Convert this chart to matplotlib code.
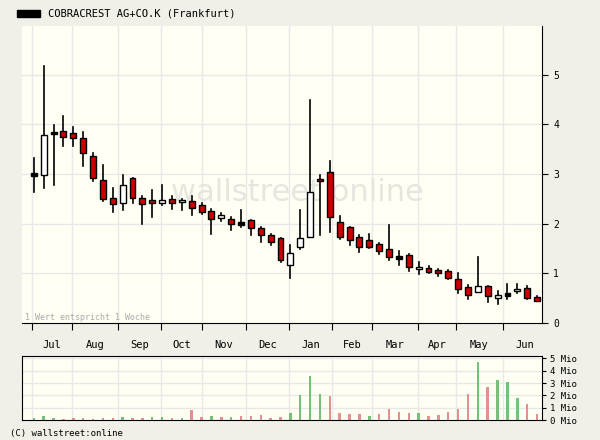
import matplotlib
matplotlib.use("Agg")
import matplotlib.pyplot as plt
from matplotlib.patches import Rectangle

opens  = [3.0,2.97,3.83,3.87,3.83,3.72,3.37,2.87,2.51,2.42,2.91,2.52,2.48,2.42,2.50,2.44,2.46,2.38,2.25,2.12,2.10,2.01,2.08,1.92,1.78,1.71,1.17,
          1.54,1.73,2.90,3.04,2.04,1.94,1.73,1.67,1.59,1.49,1.32,1.37,1.08,1.10,1.06,1.05,0.88,0.72,0.62,0.74,0.51,0.58,0.64,0.70,0.52]
closes = [2.98,3.78,3.82,3.75,3.72,3.43,2.92,2.50,2.39,2.77,2.52,2.39,2.42,2.48,2.42,2.48,2.31,2.23,2.09,2.17,1.99,2.00,1.91,1.78,1.63,1.26,1.41,
          1.72,2.63,2.86,2.13,1.73,1.67,1.54,1.54,1.44,1.32,1.31,1.12,1.13,1.02,1.00,0.90,0.69,0.57,0.74,0.54,0.56,0.57,0.68,0.51,0.45]
highs  = [3.33,5.18,3.98,4.16,3.94,3.85,3.43,3.19,2.71,2.97,2.91,2.56,2.67,2.77,2.56,2.50,2.56,2.42,2.29,2.21,2.13,2.27,2.08,1.94,1.80,1.71,1.57,
          2.27,4.49,2.98,3.26,2.15,1.94,1.77,1.80,1.62,1.98,1.45,1.39,1.23,1.14,1.08,1.07,1.01,0.76,1.32,0.74,0.64,0.78,0.78,0.74,0.54]
lows   = [2.64,2.72,2.78,3.57,3.57,3.16,2.86,2.46,2.23,2.27,2.41,1.99,2.13,2.37,2.29,2.27,2.17,2.20,1.79,2.05,1.87,1.93,1.77,1.63,1.58,1.22,0.90,
          1.48,1.73,1.77,1.83,1.69,1.58,1.42,1.52,1.38,1.26,1.16,1.04,0.98,1.01,0.94,0.88,0.61,0.49,0.62,0.43,0.39,0.49,0.60,0.49,0.45]
volumes = [0.17,0.33,0.17,0.08,0.17,0.17,0.08,0.17,0.17,0.25,0.17,0.17,0.25,0.25,0.17,0.17,0.83,0.25,0.33,0.25,0.25,0.33,0.33,0.4,0.17,0.25,
           0.58,2.0,3.58,2.08,1.92,0.58,0.5,0.5,0.33,0.5,0.92,0.67,0.58,0.58,0.33,0.42,0.67,0.92,2.08,4.75,2.67,3.25,3.08,1.75,1.33,0.5]
vol_up = "GGGRRRRRRGRRGGRGRRGRGRRRRRGGGGRRRRGRRRRGRRRRRGRGGGRR"
months = ["Jul","Aug","Sep","Oct","Nov","Dec","Jan","Feb","Mar","Apr","May","Jun"]
month_bounds = [-0.23,3.88,8.55,12.9,17.06,21.5,25.9,30.2,34.3,38.9,42.8,47.5,52.0]

BG = "#fffff3"
FIG = "#f0f0e8"
GRID = "#e8e8e8"
mono = "DejaVu Sans Mono"
W, H = 600, 440
fig = plt.figure(figsize=(6, 4.4), dpi=100, facecolor=FIG)

def ax_px(l, t, r, b):
    return fig.add_axes([l / W, 1 - b / H, (r - l) / W, (b - t) / H])

ax = ax_px(22, 26, 542, 323)
ax.set_facecolor(BG)
n = len(opens)
ax.set_xlim(-1.2, 51.5)
ax.set_ylim(0, 5.98)
ax.set_yticks(range(6))
for b in month_bounds[:-1]:
    ax.axvline(b, color=GRID, lw=1, zorder=0)
for y in range(1, 6):
    ax.axhline(y, color=GRID, lw=1, zorder=0)
for i in range(n):
    o, c, h, l = opens[i], closes[i], highs[i], lows[i]
    ax.plot([i, i], [l, h], color="black", lw=1.2, zorder=2)
    lo, hi = min(o, c), max(o, c)
    if hi - lo < 0.04:
        lo, hi = (o + c) / 2 - 0.025, (o + c) / 2 + 0.025
        fc = "black"
    else:
        fc = "white" if c > o else "#cc0000"
    ax.add_patch(Rectangle((i - 0.3, lo), 0.6, hi - lo, facecolor=fc, edgecolor="black", lw=1, zorder=3))
ax.yaxis.tick_right()
ax.tick_params(axis="y", labelsize=7, length=4, direction="out", pad=4)
ax.set_xticks(month_bounds[:-1])
ax.set_xticklabels([])
ax.tick_params(axis="x", length=5, direction="out")
mids = [(month_bounds[k] + month_bounds[k + 1]) / 2 for k in range(len(months))]
for m, x in zip(months, mids):
    ax.text(x, -0.35, m, ha="center", va="top", fontsize=7.5, family=mono)
for lab in ax.get_yticklabels():
    lab.set_family(mono)
for s in ["top", "left"]:
    ax.spines[s].set_visible(False)
ax.text(0.005, 0.005, "1 Wert entspricht 1 Woche", transform=ax.transAxes, fontsize=6, color="#aaaaaa", family=mono, va="bottom")
ax.text(0.53, 0.44, "wallstreet online", transform=ax.transAxes, fontsize=22, color="#e6e6e0", ha="center", va="center", zorder=1)

vax = ax_px(22, 356, 542, 420)
vax.set_facecolor(BG)
vax.set_xlim(-1.2, 51.5)
vax.set_ylim(0, 5.2)
for b in month_bounds[:-1]:
    vax.axvline(b, color=GRID, lw=1, zorder=0)
for y in range(1, 6):
    vax.axhline(y, color=GRID, lw=1, zorder=0)
vcols = ["#77c077" if f == "G" else "#e59090" for f in vol_up]
vax.bar(range(n), volumes, width=0.25, color=vcols, zorder=2)
vax.yaxis.tick_right()
vax.set_yticks(range(6))
vax.set_yticklabels([f"{k} Mio" for k in range(6)], family=mono, fontsize=6.5)
vax.tick_params(axis="y", length=3, pad=3)
vax.set_xticks([])
for s in vax.spines.values():
    s.set_color("black")

fig.patches.append(Rectangle((17 / W, 1 - 17 / H), 23 / W, 7 / H, transform=fig.transFigure, color="black", figure=fig))
fig.text(48 / W, 1 - 13 / H, "COBRACREST AG+CO.K (Frankfurt)", fontsize=7.5, family=mono, va="center")
fig.text(10 / W, 1 - 433 / H, "(C) wallstreet:online", fontsize=6.5, family=mono, va="center")
fig.savefig("out.png", dpi=100, facecolor=FIG)
